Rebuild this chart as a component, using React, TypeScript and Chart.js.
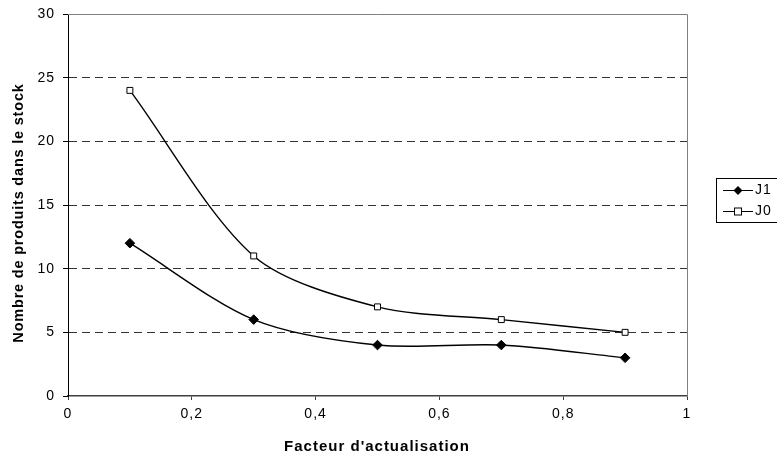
import React, { useEffect, useRef } from "react";
import { Chart, registerables } from "chart.js";

Chart.register(...registerables);

const xValues = [0.1, 0.3, 0.5, 0.7, 0.9];
const j1Values = [12, 6, 4, 4, 3];
const j0Values = [24, 11, 7, 6, 5];
const seriesNames = ["J1", "J0"];
const xTitle = "Facteur d'actualisation";
const yTitle = "Nombre de produits dans le stock";

const FONT = "'Liberation Sans', Arial, sans-serif";

const spacingPlugin = {
  id: "spacing",
  beforeDraw(chart: any) {
    try {
      chart.ctx.letterSpacing = "1px";
    } catch (e) {}
  },
};

const titlesPlugin = {
  id: "titles",
  afterDraw(chart: any) {
    const ctx = chart.ctx;
    ctx.save();
    ctx.fillStyle = "#000";
    ctx.textAlign = "center";
    ctx.textBaseline = "middle";
    ctx.letterSpacing = "1px";
    ctx.font = `bold 15px ${FONT}`;
    ctx.fillText(xTitle, 377, 447);
    ctx.letterSpacing = "0.8px";
    ctx.font = `bold 14.5px ${FONT}`;
    ctx.translate(19, 213);
    ctx.rotate(-Math.PI / 2);
    ctx.fillText(yTitle, 0, 0);
    ctx.restore();
  },
};

const legendPlugin = {
  id: "customLegend",
  afterDraw(chart: any) {
    const ctx = chart.ctx;
    ctx.save();
    const bx = 716, by = 178, bw = 80, bh = 44;
    ctx.strokeStyle = "#000";
    ctx.lineWidth = 1;
    ctx.strokeRect(bx + 0.5, by + 0.5, bw, bh);
    const rows = [
      { name: seriesNames[0], y: 190, style: "diamond" },
      { name: seriesNames[1], y: 211, style: "square" },
    ];
    rows.forEach((r) => {
      ctx.beginPath();
      ctx.moveTo(723, r.y + 0.5);
      ctx.lineTo(753, r.y + 0.5);
      ctx.strokeStyle = "#000";
      ctx.lineWidth = 1;
      ctx.stroke();
      const cx = 738, cy = r.y + 0.5;
      if (r.style === "diamond") {
        ctx.beginPath();
        ctx.moveTo(cx, cy - 4.5);
        ctx.lineTo(cx + 4.5, cy);
        ctx.lineTo(cx, cy + 4.5);
        ctx.lineTo(cx - 4.5, cy);
        ctx.closePath();
        ctx.fillStyle = "#000";
        ctx.fill();
      } else {
        ctx.fillStyle = "#fff";
        ctx.fillRect(cx - 3.5, cy - 3.5, 7, 7);
        ctx.strokeRect(cx - 3.5, cy - 3.5, 7, 7);
      }
      ctx.fillStyle = "#000";
      ctx.letterSpacing = "1px";
      ctx.font = `14px ${FONT}`;
      ctx.textBaseline = "middle";
      ctx.textAlign = "left";
      ctx.fillText(r.name, 755, cy);
    });
    ctx.restore();
  },
};

const borderPlugin = {
  id: "plotBorder",
  afterDatasetsDraw(chart: any) {
    const { ctx, chartArea } = chart;
    ctx.save();
    ctx.strokeStyle = "#808080";
    ctx.lineWidth = 1;
    ctx.beginPath();
    ctx.moveTo(chartArea.left, Math.round(chartArea.top) + 0.5);
    ctx.lineTo(Math.round(chartArea.right) + 0.5, Math.round(chartArea.top) + 0.5);
    ctx.lineTo(Math.round(chartArea.right) + 0.5, chartArea.bottom);
    ctx.stroke();
    ctx.restore();
  },
};

export default function App() {
  const ref = useRef<HTMLCanvasElement>(null);
  useEffect(() => {
    document.body.style.margin = "0";
    const ctx = ref.current!.getContext("2d")!;
    const chart = new Chart(ctx, {
      type: "line",
      data: {
        datasets: [
          {
            label: seriesNames[0],
            data: xValues.map((x, i) => ({ x, y: j1Values[i] })),
            borderColor: "#000",
            backgroundColor: "#000",
            borderWidth: 1.4,
            pointStyle: "rectRot",
            pointRadius: 4.8,
            pointBorderWidth: 1,
            pointBorderColor: "#000",
            pointBackgroundColor: "#000",
            tension: 0.3,
          },
          {
            label: seriesNames[1],
            data: xValues.map((x, i) => ({ x, y: j0Values[i] })),
            borderColor: "#000",
            backgroundColor: "#fff",
            borderWidth: 1.4,
            pointStyle: "rect",
            pointRadius: 4.2,
            pointBorderWidth: 1,
            pointBorderColor: "#000",
            pointBackgroundColor: "#fff",
            tension: 0.3,
          },
        ],
      },
      options: {
        animation: false,
        responsive: false,
        layout: { padding: { top: 14, right: 90, left: 0, bottom: 0 } },
        plugins: {
          legend: { display: false },
          tooltip: { enabled: false },
        },
        scales: {
          x: {
            type: "linear",
            min: 0,
            max: 1,
            ticks: {
              stepSize: 0.2,
              color: "#000",
              font: { family: FONT, size: 14 },
              padding: 6,
              callback: (v: any) => String(Math.round(Number(v) * 10) / 10).replace(".", ","),
            },
            grid: { display: true, drawOnChartArea: false, drawTicks: true, tickLength: 4, color: "#404040" },
            border: { display: true, color: "#404040", width: 1.5 },
            title: { display: false },
            afterFit: (s: any) => {
              s.height = 66;
            },
          },
          y: {
            type: "linear",
            min: 0,
            max: 30,
            ticks: {
              stepSize: 5,
              color: "#000",
              font: { family: FONT, size: 14, lineHeight: 1 },
              padding: 8,
            },
            grid: {
              color: (c: any) => (c.tick && (c.tick.value === 30 || c.tick.value === 0) ? "rgba(0,0,0,0)" : "#333"),
              tickColor: "#000",
              tickLength: 5,
              lineWidth: 1,
            },
            border: { display: true, color: "#000", width: 1, dash: [8, 5] },
            title: { display: false },
            afterFit: (s: any) => {
              s.width = 68;
              s.paddingTop = 0;
            },
          },
        },
      },
      plugins: [spacingPlugin, borderPlugin, titlesPlugin, legendPlugin],
    });
    return () => chart.destroy();
  }, []);
  return (
    <div style={{ position: "absolute", left: 0, top: 0, width: 777, height: 462, background: "#fff" }}>
      <canvas ref={ref} width={777} height={462} style={{ width: 777, height: 462 }} />
    </div>
  );
}
